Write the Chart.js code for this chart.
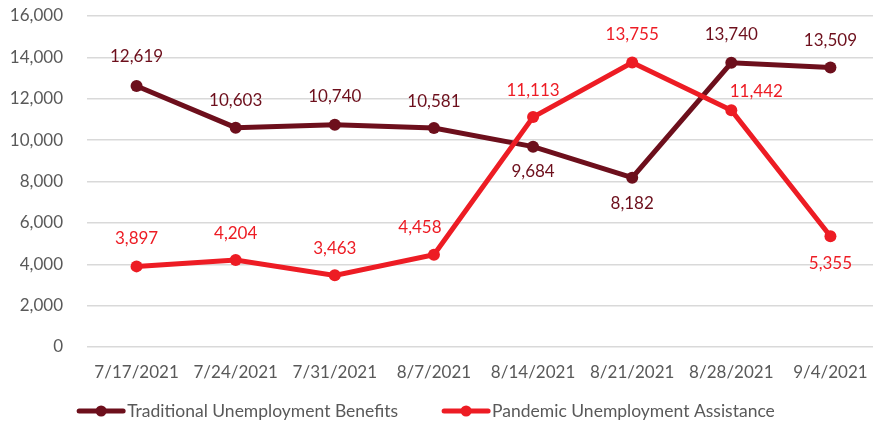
<!DOCTYPE html>
<html>
<head>
<meta charset="utf-8">
<script src="https://cdn.jsdelivr.net/npm/chart.js@4/dist/chart.umd.min.js"></script>
<style>
  html, body { margin: 0; padding: 0; background: #fff; overflow: hidden; }
  #wrap { width: 880px; height: 429px; position: relative; }
</style>
</head>
<body>
<div id="wrap"><canvas id="c" width="880" height="429"></canvas></div>
<script>
// ---- data ----
const categories = ["7/17/2021", "7/24/2021", "7/31/2021", "8/7/2021", "8/14/2021", "8/21/2021", "8/28/2021", "9/4/2021"];
const traditional = [12619, 10603, 10740, 10581, 9684, 8182, 13740, 13509];
const pandemic = [3897, 4204, 3463, 4458, 11113, 13755, 11442, 5355];
const seriesNames = ["Traditional Unemployment Benefits", "Pandemic Unemployment Assistance"];
const yTicks = { min: 0, max: 16000, step: 2000 };

// ---- style ----
const MAROON = "#6D0F1C";
const RED = "#ED1C24";
const FONT = "Lato";
const TEXT = "#595959";
// label placement per point: [dx, dy]
const tradPlace = [[0,-29],[0,-27],[0,-28],[0,-27],[0,25],[0,26],[0,-28],[0,-27]];
const pandPlace = [[0,-28],[0,-27],[0,-27],[-14,-27],[0,-27],[0,-28],[25,-19],[0,27]];

const labelPlugin = {
  id: "valueLabels",
  afterDatasetsDraw(chart) {
    const ctx = chart.ctx;
    const places = [tradPlace, pandPlace];
    chart.data.datasets.forEach((ds, i) => {
      const meta = chart.getDatasetMeta(i);
      ctx.save();
      ctx.font = "17px " + FONT;
      ctx.fillStyle = ds.borderColor;
      ctx.textAlign = "center";
      ctx.textBaseline = "middle";
      meta.data.forEach((pt, j) => {
        const p = places[i][j];
        ctx.fillText(ds.data[j].toLocaleString("en-US"), pt.x + p[0], pt.y + p[1]);
      });
      ctx.restore();
    });
  }
};

// custom legend: line with dot marker, text right next to it
const legendPlugin = {
  id: "lineLegend",
  afterDraw(chart) {
    const ctx = chart.ctx;
    const y = 411, markW = 48, gapText = 2, gapItem = 44, center = 426;
    ctx.save();
    ctx.font = "17.5px " + FONT;
    ctx.textBaseline = "middle";
    ctx.textAlign = "left";
    const items = chart.data.datasets.map(ds => ({ text: ds.label, color: ds.borderColor, w: ctx.measureText(ds.label).width }));
    const total = items.reduce((a, it) => a + markW + gapText + it.w, 0) + gapItem * (items.length - 1);
    let x = center - total / 2;
    items.forEach(it => {
      ctx.strokeStyle = it.color; ctx.lineWidth = 5; ctx.lineCap = "round";
      ctx.beginPath(); ctx.moveTo(x + 2, y); ctx.lineTo(x + markW - 2, y); ctx.stroke();
      ctx.fillStyle = it.color; ctx.beginPath(); ctx.arc(x + markW / 2, y, 5.5, 0, Math.PI * 2); ctx.fill();
      ctx.fillStyle = TEXT;
      ctx.fillText(it.text, x + markW + gapText, y);
      x += markW + gapText + it.w + gapItem;
    });
    ctx.restore();
  }
};

new Chart(document.getElementById("c"), {
  type: "line",
  data: {
    labels: categories,
    datasets: [
      { label: seriesNames[0], data: traditional, borderColor: MAROON, backgroundColor: MAROON,
        borderWidth: 5, pointRadius: 6, pointHoverRadius: 6, pointBorderWidth: 0, tension: 0, order: 1 },
      { label: seriesNames[1], data: pandemic, borderColor: RED, backgroundColor: RED,
        borderWidth: 5, pointRadius: 6, pointHoverRadius: 6, pointBorderWidth: 0, tension: 0, order: 0 }
    ]
  },
  options: {
    responsive: false,
    animation: false,
    events: [],
    layout: { autoPadding: false, padding: { top: 16, right: 0, left: 0, bottom: 43 } },
    plugins: {
      tooltip: { enabled: false },
      legend: { display: false }
    },
    scales: {
      x: {
        offset: true,
        clip: false,
        grid: { display: false },
        border: { display: false },
        ticks: { font: { family: FONT, size: 17 }, color: TEXT, maxRotation: 0, padding: 7 },
        afterFit(s) { s.height = 39; s.paddingLeft = 0; s.paddingRight = 0; }
      },
      y: {
        min: yTicks.min, max: yTicks.max,
        clip: false,
        grid: { color: "#D9D9D9", lineWidth: 1.5, drawTicks: false },
        border: { display: false },
        ticks: { stepSize: yTicks.step, font: { family: FONT, size: 17 }, color: TEXT, padding: 24,
          callback: v => v.toLocaleString("en-US") },
        afterFit(s) { s.width = 87; s.paddingTop = 0; s.paddingBottom = 0; }
      }
    }
  },
  plugins: [labelPlugin, legendPlugin]
});
</script>
</body>
</html>
